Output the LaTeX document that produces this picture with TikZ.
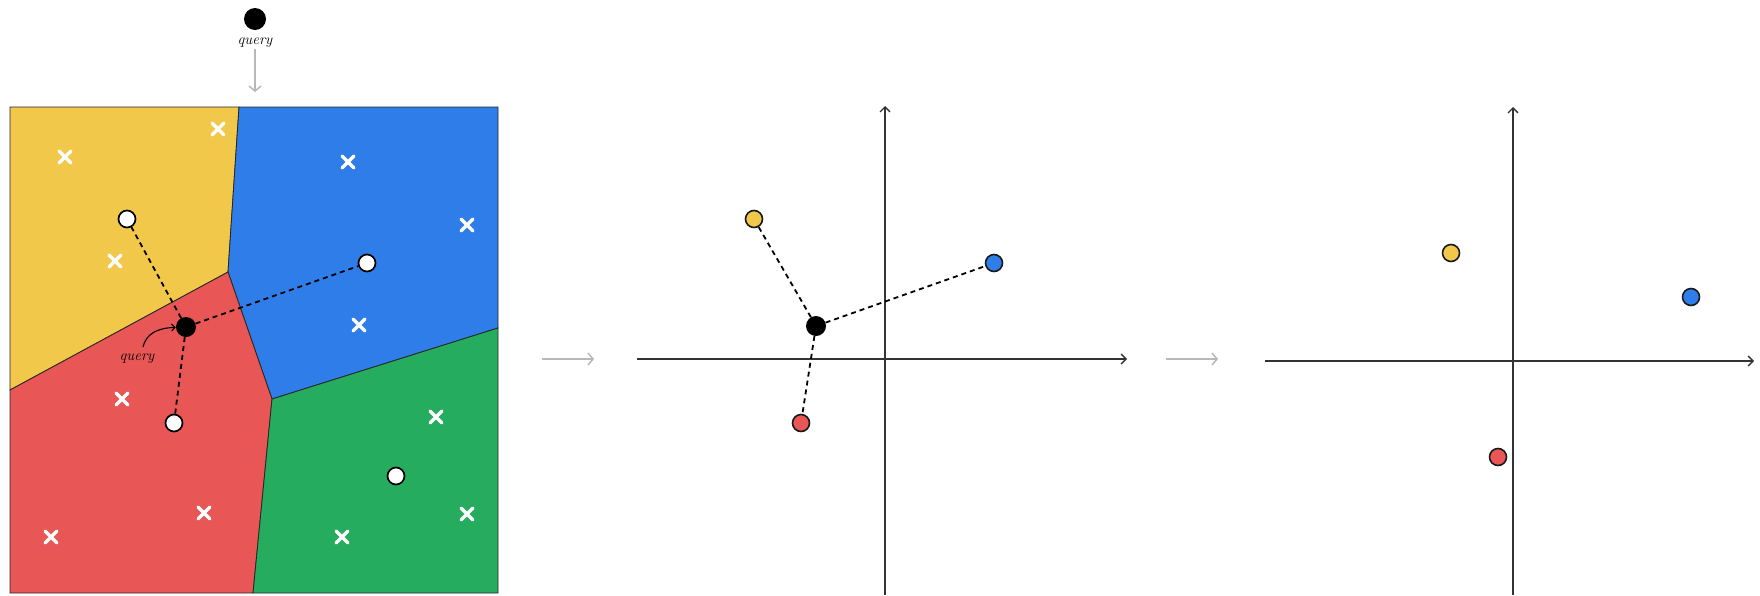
\documentclass[tikz,border=0pt]{standalone}
\usetikzlibrary{arrows.meta}
\definecolor{cyel}{HTML}{F2C84B}
\definecolor{cblu}{HTML}{2F7DE8}
\definecolor{cred}{HTML}{E95656}
\definecolor{cgrn}{HTML}{26AC5F}
\tikzset{
  region/.style={draw=black!85, line width=0.8pt},
  xcross/.pic={\draw[white, line width=3.4pt, line cap=round] (-6,-6) -- (6,6) (-6,6) -- (6,-6);},
  wdot/.style={circle, draw=black, line width=1.7pt, fill=white, minimum size=17pt, inner sep=0pt},
  qdot/.style={circle, fill=black, minimum size=20pt, inner sep=0pt},
  cdot/.style={circle, draw=black!90, line width=1.6pt, minimum size=17pt, inner sep=0pt},
  link/.style={line width=1.8pt, dash pattern=on 5pt off 4pt},
  axis/.style={line width=1.3pt, black!80, -{Straight Barb[length=5pt,width=10pt]}},
  flow/.style={black!28, line width=1.5pt, -{Straight Barb[length=5pt,width=12pt]}},
  lbl/.style={font=\fontsize{15}{17}\selectfont\itshape, inner sep=1pt}
}
\begin{document}
\begin{tikzpicture}[x=1pt,y=-1pt]
\useasboundingbox[fill=white] (0,0) rectangle (1760,595);

% ---- top query ----
\node[qdot, minimum size=22pt] (tq) at (255,19) {};
\node[lbl] (tql) at (255,43) {query};
\coordinate (tqe) at (255,92);
\draw[flow] (tql.south) -- (tqe);

% ---- Voronoi regions ----
\filldraw[region, fill=cyel] (10,107) -- (239,107) -- (228,272) -- (10,390) -- cycle;
\filldraw[region, fill=cblu] (239,107) -- (498,107) -- (498,328) -- (272,399) -- (228,272) -- cycle;
\filldraw[region, fill=cred] (10,390) -- (228,272) -- (272,399) -- (253,593) -- (10,593) -- cycle;
\filldraw[region, fill=cgrn] (272,399) -- (498,328) -- (498,593) -- (253,593) -- cycle;

% crosses
\foreach \p in {(65,157),(218,129),(115,261),(348,162),(467,225),(359,325),(122,399),(204,513),(51,537),(436,417),(467,514),(342,537)}
  \pic at \p {xcross};

% centroids
\node[wdot] (wy) at (127,219) {};
\node[wdot] (wb) at (367,263) {};
\node[wdot] (wr) at (174,423) {};
\node[wdot] (wg) at (396,476) {};
\node[qdot] (q) at (186,327) {};
\draw[link] (q) -- (wy);
\draw[link] (q) -- (wb);
\draw[link] (q) -- (wr);
\node[lbl] (ql) at (137,359) {query};
\coordinate (qa) at (143,347);
\draw[line width=1.1pt, -{Straight Barb[length=3.5pt,width=7pt]}] (qa) .. controls (146,334) and (157,328) .. (q);

% ---- middle panel ----
\coordinate (f1s) at (542,359); \coordinate (f1e) at (594,359);
\draw[flow] (f1s) -- (f1e);
\coordinate (mx0) at (637,359); \coordinate (mx1) at (1127,359);
\coordinate (my0) at (885,595); \coordinate (my1) at (885,106);
\draw[axis] (mx0) -- (mx1);
\draw[axis] (my0) -- (my1);
\node[cdot, fill=cyel] (my) at (754,219) {};
\node[cdot, fill=cblu] (mb) at (994,263) {};
\node[cdot, fill=cred] (mr) at (801,423) {};
\node[qdot] (mq) at (816,326) {};
\draw[link] (mq) -- (my);
\draw[link] (mq) -- (mb);
\draw[link] (mq) -- (mr);

% ---- right panel ----
\coordinate (f2s) at (1166,359); \coordinate (f2e) at (1218,359);
\draw[flow] (f2s) -- (f2e);
\coordinate (rx0) at (1265,361); \coordinate (rx1) at (1754,361);
\coordinate (ry0) at (1513,595); \coordinate (ry1) at (1513,107);
\draw[axis] (rx0) -- (rx1);
\draw[axis] (ry0) -- (ry1);
\node[cdot, fill=cyel] (ry) at (1451,253) {};
\node[cdot, fill=cblu] (rb) at (1691,297) {};
\node[cdot, fill=cred] (rr) at (1498,457) {};
\end{tikzpicture}
\end{document}
